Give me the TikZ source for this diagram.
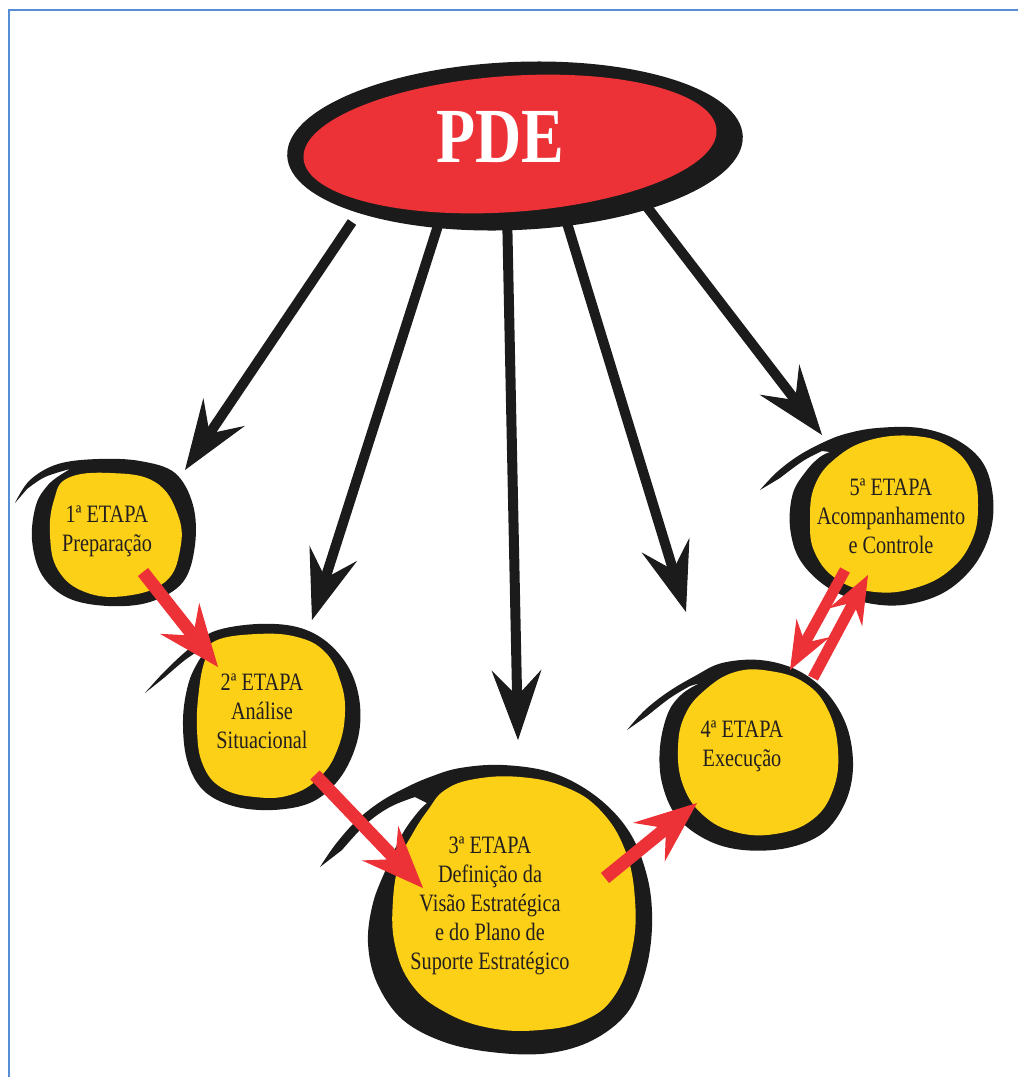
\documentclass[tikz,border=0pt]{standalone}
\usepackage{fontspec}
\newfontfamily\etapafont[FakeStretch=0.81]{Liberation Serif}
\newfontfamily\pdefont[FakeStretch=0.82]{Liberation Serif}
\usetikzlibrary{arrows.meta}
\definecolor{ylw}{RGB}{252,208,22}
\definecolor{rd}{RGB}{237,50,55}
\definecolor{blk}{RGB}{28,27,27}
\definecolor{framecol}{RGB}{85,142,213}
\definecolor{txt}{RGB}{35,31,32}
\tikzset{
  blkarrow/.style={draw=blk, line width=10pt, -{Stealth[length=70pt, width=50pt, inset=26pt, line width=1pt]}},
  redarrow/.style={draw=rd, line width=13pt, -{Stealth[length=62pt, width=50pt, inset=22pt, line width=1pt]}},
  redsmall/.style={draw=rd, line width=11pt, -{Stealth[length=48pt, width=38pt, inset=17pt, line width=1pt]}},
  stagetext/.style={font=\etapafont\fontsize{25}{29}\selectfont, text=txt, align=center, inner sep=0pt},
  pdetext/.style={font=\pdefont\bfseries\fontsize{78}{78}\selectfont, text=white, inner sep=0pt},
  blobrim/.style={fill=blk},
  blobfill/.style={fill=ylw}
}
\begin{document}
\begin{tikzpicture}[x=1pt,y=-1pt]
\useasboundingbox (0,0) rectangle (1018,1077);
% frame
\draw[framecol, line width=2.2pt] (9,1077) -- (9,10) -- (1018,10);

% arrow end coordinates
\coordinate (b1s) at (352,222); \coordinate (b1e) at (185,470);
\coordinate (b2s) at (443,210); \coordinate (b2e) at (312,620);
\coordinate (b3s) at (507,210); \coordinate (b3e) at (518,740);
\coordinate (b4s) at (563,210); \coordinate (b4e) at (686,612);
\coordinate (b5s) at (634,190); \coordinate (b5e) at (822,435);

\draw[blkarrow] (b1s) -- (b1e);
\draw[blkarrow] (b2s) -- (b2e);
\draw[blkarrow] (b3s) -- (b3e);
\draw[blkarrow] (b4s) -- (b4e);
\draw[blkarrow] (b5s) -- (b5e);

% PDE ellipse
\fill[blk, rotate around={2.5:(515,146)}] (515,146) ellipse [x radius=228, y radius=84];
\fill[rd, rotate around={4:(510,144)}] (510,144) ellipse [x radius=207, y radius=68];
\node[pdetext] (pde) at (500,137.5) {PDE};

% stage 1
\fill[blobrim] plot[smooth, tension=0.6] coordinates {(15,503) (30,480) (58,464) (98,459) (140,461) (175,473) (193,505) (195,545) (183,582) (150,602) (108,606) (68,598) (42,575) (32,540) (36,505) (48,485) (62,474)}
  -- plot[smooth, tension=0.6] coordinates {(70,469) (45,477) (27,489)} -- cycle;
\fill[blobfill] plot[smooth cycle, tension=0.7] coordinates {(68,478) (110,473) (155,482) (178,515) (180,550) (165,582) (125,596) (85,592) (58,570) (50,535) (54,500)};

% stage 2
\fill[blobrim] plot[smooth, tension=0.6] coordinates {(145,693) (165,671) (190,648) (215,631) (257,624) (297,627) (327,642) (350,670) (360,705) (357,742) (340,778) (312,802) (273,810) (233,806) (203,790) (187,760) (183,720) (188,685) (198,662) (210,646)}
  -- plot[smooth, tension=0.6] coordinates {(203,648) (185,660) (165,677)} -- cycle;
\fill[blobfill] plot[smooth cycle, tension=0.7] coordinates {(215,641) (257,634) (297,637) (325,652) (340,680) (345,712) (338,748) (320,777) (290,795) (255,797) (222,788) (203,765) (197,730) (199,690) (205,660)};

% stage 3
\fill[blobrim] plot[smooth, tension=0.6] coordinates {(320,867) (335,845) (356,821) (380,802) (405,788) (430,777) (460,768) (503,765) (553,773) (597,797) (630,833) (648,880) (652,927) (645,973) (627,1013) (593,1040) (550,1053) (500,1053) (447,1043) (403,1020) (377,983) (368,943) (373,903) (387,867) (403,833) (418,812) (427,803)}
  -- plot[smooth, tension=0.6] coordinates {(415,797) (390,807) (366,824) (342,850)} -- cycle;
\fill[blobfill] plot[smooth cycle, tension=0.7] coordinates {(445,790) (475,779) (520,777) (565,787) (600,810) (625,850) (635,900) (632,950) (615,995) (585,1020) (540,1030) (490,1028) (445,1012) (412,985) (395,945) (393,900) (400,860) (413,833) (428,810)};

% stage 4
\fill[blobrim] plot[smooth, tension=0.6] coordinates {(627,730) (645,710) (668,692) (695,676) (722,663) (760,660) (797,670) (827,693) (847,727) (853,767) (845,803) (823,833) (787,848) (743,850) (707,840) (677,817) (662,783) (660,747) (668,713) (682,694) (700,683)}
  -- plot[smooth, tension=0.6] coordinates {(690,686) (670,698) (647,716)} -- cycle;
\fill[blobfill] plot[smooth cycle, tension=0.7] coordinates {(705,690) (735,672) (770,671) (805,683) (828,710) (838,750) (833,790) (812,820) (775,834) (735,832) (703,815) (683,785) (678,748) (685,715)};

% stage 5
\fill[blobrim] plot[smooth, tension=0.6] coordinates {(760,490) (777,472) (798,456) (822,443) (845,434) (877,428) (920,428) (957,440) (983,463) (993,497) (990,533) (973,567) (943,593) (903,605) (863,602) (827,587) (800,560) (790,527) (793,493) (807,470) (820,457) (830,452)}
  -- plot[smooth, tension=0.6] coordinates {(822,451) (803,461) (780,478)} -- cycle;
\fill[blobfill] plot[smooth cycle, tension=0.7] coordinates {(836,458) (870,440) (915,436) (950,447) (972,472) (978,505) (972,540) (950,570) (915,588) (875,592) (838,580) (815,553) (810,520) (815,485)};

% texts
\node[stagetext] (e1) at (107,531) {1ª ETAPA\\Preparação};
\node[stagetext] (e2) at (262,711) {2ª ETAPA\\Análise\\Situacional};
\node[stagetext] (e3) at (490,906) {3ª ETAPA\\Definição da\\Visão Estratégica\\e do Plano de\\Suporte Estratégico};
\node[stagetext] (e4) at (742,746) {4ª ETAPA\\Execução};
\node[stagetext] (e5) at (891,516) {5ª ETAPA\\Acompanhamento\\e Controle};

% red arrows
\coordinate (r1s) at (143,572); \coordinate (r1e) at (218,667);
\coordinate (r2s) at (315,775); \coordinate (r2e) at (423,888);
\coordinate (r3s) at (605,878); \coordinate (r3e) at (697,803);
\coordinate (r4s) at (845,570); \coordinate (r4e) at (790,670);
\coordinate (r5s) at (813,678); \coordinate (r5e) at (868,575);
\draw[redarrow] (r1s) -- (r1e);
\draw[redarrow] (r2s) -- (r2e);
\draw[redarrow] (r3s) -- (r3e);
\draw[redsmall] (r4s) -- (r4e);
\draw[redsmall] (r5s) -- (r5e);
\end{tikzpicture}
\end{document}
